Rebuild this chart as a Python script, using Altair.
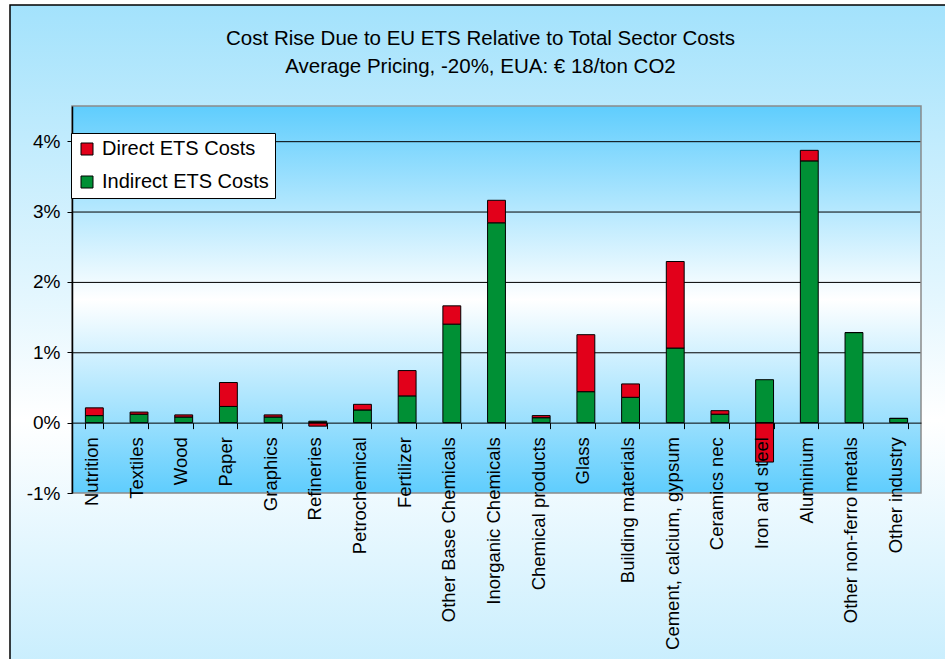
import altair as alt
import pandas as pd

categories = ["Nutrition", "Textiles", "Wood", "Paper", "Graphics", "Refineries",
              "Petrochemical", "Fertilizer", "Other Base Chemicals", "Inorganic Chemicals",
              "Chemical products", "Glass", "Building materials", "Cement, calcium, gypsum",
              "Ceramics nec", "Iron and steel", "Aluminium", "Other non-ferro metals",
              "Other industry"]
indirect = [0.10, 0.12, 0.08, 0.23, 0.08, 0.02, 0.18, 0.38, 1.40, 2.84,
            0.07, 0.44, 0.36, 1.06, 0.12, 0.61, 3.72, 1.28, 0.06]
direct = [0.11, 0.03, 0.03, 0.34, 0.03, -0.05, 0.08, 0.36, 0.26, 0.32,
          0.03, 0.81, 0.19, 1.23, 0.05, -0.56, 0.15, 0.0, 0.0]
series = ["Direct ETS Costs", "Indirect ETS Costs"]
colors = ["#e2001a", "#009035"]
y_ticks = [-1, 0, 1, 2, 3, 4]
grid_values = [1, 2, 3, 4]
title_lines = ["Cost Rise Due to EU ETS Relative to Total Sector Costs",
               "Average Pricing, -20%, EUA: € 18/ton CO2"]

rows = []
for c, i, d in zip(categories, indirect, direct):
    rows.append({"Sector": c, "Series": series[1], "Value": i, "ord": 0})
    rows.append({"Sector": c, "Series": series[0], "Value": d, "ord": 1})
df = pd.DataFrame(rows)

W, H = 849, 387
PX_PER_UNIT = H / 5.5
FONT = "Liberation Sans"

yscale = alt.Scale(domain=[-1, 4.5], nice=False, zero=False)
yaxis = alt.Axis(values=y_ticks, labelExpr="datum.value + '%'", title=None, grid=False,
                 domainColor="black", domainWidth=1.5, tickColor="black", tickSize=5,
                 labelFont=FONT, labelFontSize=19, labelColor="black", labelPadding=7,
                 zindex=1)

plot_grad = alt.LinearGradient(
    gradient="linear", x1=0, x2=0, y1=0, y2=1,
    stops=[alt.GradientStop(color="#5fcdfd", offset=0),
           alt.GradientStop(color="#ffffff", offset=0.5),
           alt.GradientStop(color="#5fcdfd", offset=1)])
outer_grad = alt.LinearGradient(
    gradient="linear", x1=0, x2=0, y1=0, y2=1,
    stops=[alt.GradientStop(color="#a3e2fc", offset=0),
           alt.GradientStop(color="#ffffff", offset=0.5),
           alt.GradientStop(color="#a3e2fc", offset=1)])

one = alt.Data(values=[{"a": 1}])

outer_bg = alt.Chart(one).mark_rect(fill=outer_grad, stroke="black", strokeWidth=1.5).encode(
    x=alt.value(-62), x2=alt.value(920), y=alt.value(-101), y2=alt.value(729))

plot_bg = alt.Chart(one).mark_rect(fill=plot_grad).encode(
    x=alt.value(0), x2=alt.value(W), y=alt.value(0), y2=alt.value(H))

plot_border = alt.Chart(one).mark_rect(fill=None, fillOpacity=0, stroke="#8a8a8a", strokeWidth=1.5).encode(
    x=alt.value(0), x2=alt.value(W), y=alt.value(0), y2=alt.value(H))

grid = alt.Chart(pd.DataFrame({"v": grid_values})).mark_rule(
    color="black", strokeWidth=1, yOffset=0.5).encode(
    y=alt.Y("v:Q", scale=yscale, axis=yaxis),
    x=alt.value(0), x2=alt.value(W))

bars = alt.Chart(df).mark_bar(stroke="black", strokeWidth=1).encode(
    x=alt.X("Sector:N", sort=categories,
            scale=alt.Scale(paddingInner=0.6, paddingOuter=0.3),
            axis=alt.Axis(title=None, labelAngle=-90, labelAlign="right", labelBaseline="middle",
                          labelFont=FONT, labelFontSize=18.5, labelColor="black", labelLimit=400,
                          labelOffset=-3,
                          tickBand="extent", tickColor="black", tickSize=6, tickWidth=1,
                          domainColor="black", domainWidth=1, offset=-PX_PER_UNIT, labelPadding=8,
                          grid=False, zindex=1)),
    y=alt.Y("Value:Q", scale=yscale, stack="zero", axis=yaxis),
    color=alt.Color("Series:N", scale=alt.Scale(domain=series, range=colors),
                    legend=alt.Legend(title=None, orient="none", legendX=-1, legendY=27,
                                      fillColor="white", strokeColor="black", padding=6,
                                      symbolType="square", symbolSize=144,
                                      symbolStrokeColor="black", symbolStrokeWidth=1,
                                      symbolOpacity=1, labelLimit=400,
                                      labelFont=FONT, labelFontSize=20, labelColor="black",
                                      labelOffset=5, rowPadding=13, zindex=2)),
    order=alt.Order("ord:Q", sort="ascending"),
)

chart = alt.layer(outer_bg, plot_bg, grid, bars, plot_border).properties(
    width=W, height=H,
    title=alt.TitleParams(text=title_lines, font=FONT, fontSize=20.5, fontWeight="normal",
                          color="black", anchor="middle", frame="group", dx=-16,
                          offset=28, dy=101.5, lineHeight=28),
    autosize=alt.AutoSizeParams(type="none"),
    padding={"left": 72, "top": 106, "right": 24, "bottom": 166},
).configure(background="white").configure_view(stroke=None)

chart.save("out.html", embed_options={"renderer": "svg", "actions": False})
